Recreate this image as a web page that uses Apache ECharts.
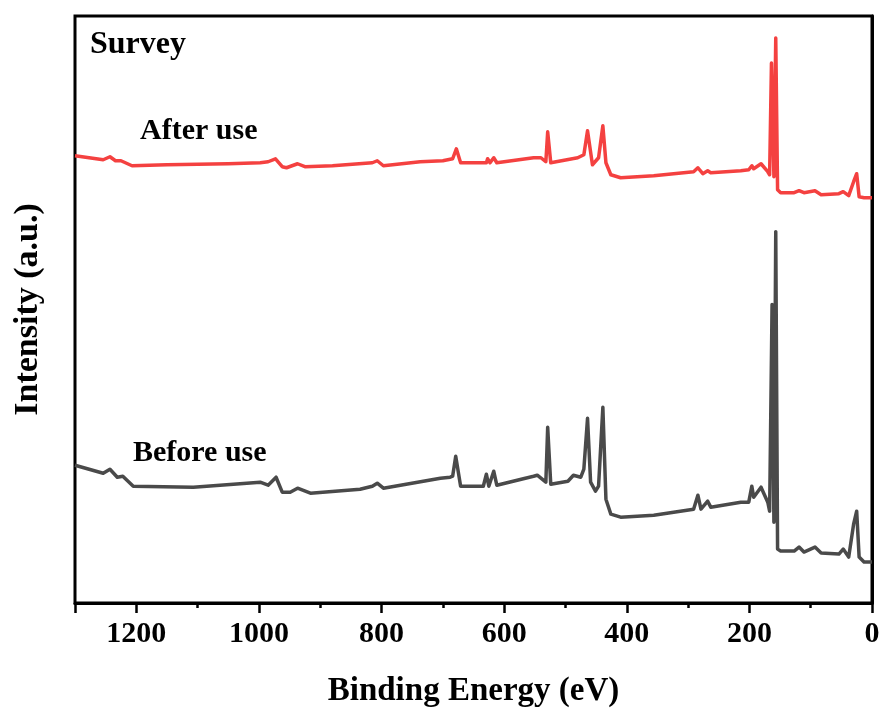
<!DOCTYPE html>
<html lang="en">

<head>
    <meta charset="utf-8">
    <title>Survey</title>
    <script src="https://cdn.jsdelivr.net/npm/echarts@6/dist/echarts.min.js"></script>
    <style>
        html, body { margin: 0; padding: 0; background: #fff; }
        #survey { width: 885px; height: 713px; }
    </style>
</head>

<body>
    <div id="survey"></div>
    <script type="text/javascript">
        // binding energy (eV) and intensity (a.u.)
        var afterEnergy = [1300, 1254, 1243, 1234, 1225, 1207, 1150, 1050, 998, 985, 973, 962, 955, 937, 925, 880,
            815, 807, 797, 737, 700, 684, 678, 671, 629, 627, 623, 617, 612, 552, 540, 532, 529, 524, 480, 470,
            464, 456, 446, 439, 434, 426, 410, 356, 291, 284, 276, 268, 263, 214, 201, 196, 193, 181, 170, 167,
            164, 160, 157, 154, 149, 127, 119, 111, 93, 83, 54, 47, 38, 30, 25, 21, 13, 0];
        var afterIntensity = [448, 444, 447, 443, 443, 438, 439, 440, 441, 442, 445, 437, 436, 440, 437, 438,
            441, 443, 438, 442, 443, 445, 455, 441, 441, 445, 441, 446, 441, 446, 446, 442, 472, 441, 446, 449,
            473, 439, 446, 478, 441, 429, 426, 428, 432, 436, 430, 433, 431, 433, 434, 438, 435, 440, 432, 429,
            541, 427, 566, 414, 411, 411, 413, 411, 413, 409, 410, 412, 408, 422, 430, 407, 406, 406];

        var beforeEnergy = [1300, 1297, 1254, 1243, 1231, 1222, 1205, 1107, 998, 985, 972, 962, 949, 937, 916,
            835, 815, 807, 797, 704, 688, 684, 679, 671, 634, 629, 625, 617, 612, 552, 546, 532, 529, 524, 496,
            487, 475, 470, 464, 459, 451, 446, 439, 434, 426, 410, 356, 291, 284, 279, 268, 263, 214, 201, 196,
            193, 181, 170, 167, 163, 160, 157, 154, 149, 127, 119, 111, 93, 83, 54, 47, 38, 30, 25, 21, 13, 0];
        var beforeIntensity = [138, 137, 130, 134, 126, 127, 117, 116, 121, 118, 126, 111, 111, 115, 110,
            114, 117, 120, 115, 125, 126, 127, 147, 117, 117, 129, 117, 132, 118, 127, 128, 121, 176, 119, 122,
            128, 126, 134, 185, 121, 112, 117, 196, 104, 89, 86, 88, 94, 108, 94, 102, 96, 101, 101, 117,
            106, 116, 101, 92, 299, 81, 372, 54, 52, 52, 56, 51, 56, 50, 49, 54, 46, 79, 92, 46, 41, 41];

        var energyTicks = [1200, 1000, 800, 600, 400, 200, 0];

        function pairs(xs, ys) {
            var out = [];
            for (var i = 0; i < xs.length; i++) {
                out.push([xs[i], ys[i]]);
            }
            return out;
        }

        var font = 'Liberation Serif';
        var myChart = echarts.init(document.getElementById('survey'));
        var option = {
            animation: false,
            grid: {
                left: 75,
                right: 13,
                top: 16,
                bottom: 109,
                show: true,
                borderColor: '#000',
                borderWidth: 3
            },
            xAxis: {
                type: 'value',
                min: 0,
                max: 1300,
                interval: 200,
                inverse: true,
                name: 'Binding Energy (eV)',
                nameLocation: 'middle',
                nameGap: 72,
                nameTextStyle: { fontFamily: font, fontWeight: 'bold', fontSize: 33, color: '#000' },
                axisLine: { lineStyle: { color: '#000', width: 3 } },
                axisTick: { length: 10, lineStyle: { color: '#000', width: 2.5 } },
                minorTick: { show: true, splitNumber: 2, length: 5, lineStyle: { color: '#000', width: 2.5 } },
                splitLine: { show: false },
                axisLabel: {
                    margin: 16,
                    fontFamily: font,
                    fontWeight: 'bold',
                    fontSize: 30,
                    color: '#000',
                    formatter: function (v) {
                        return energyTicks.indexOf(v) >= 0 ? String(v) : '';
                    }
                }
            },
            yAxis: {
                type: 'value',
                min: 0,
                max: 588,
                name: 'Intensity (a.u.)',
                nameLocation: 'middle',
                nameGap: 30,
                nameTextStyle: { fontFamily: font, fontWeight: 'bold', fontSize: 34, color: '#000' },
                axisLine: { show: true, lineStyle: { color: '#000', width: 3 } },
                axisTick: { show: false },
                axisLabel: { show: false },
                splitLine: { show: false }
            },
            graphic: [
                { type: 'text', left: 90, top: 29, style: { text: 'Survey', font: 'bold 32px ' + font, fill: '#000' } },
                { type: 'text', left: 140, top: 116, style: { text: 'After use', font: 'bold 30px ' + font, fill: '#000' } },
                { type: 'text', left: 133, top: 438, style: { text: 'Before use', font: 'bold 30px ' + font, fill: '#000' } }
            ],
            series: [
                {
                    name: 'After use',
                    type: 'line',
                    showSymbol: false,
                    data: pairs(afterEnergy, afterIntensity),
                    lineStyle: { color: '#f44140', width: 3.5, join: 'round' }
                },
                {
                    name: 'Before use',
                    type: 'line',
                    showSymbol: false,
                    data: pairs(beforeEnergy, beforeIntensity),
                    lineStyle: { color: '#4a4a4a', width: 3.5, join: 'round' }
                }
            ]
        };
        myChart.setOption(option);
    </script>
</body>

</html>
